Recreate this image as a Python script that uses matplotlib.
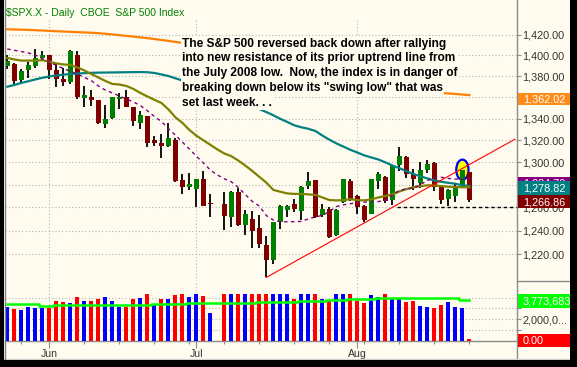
import numpy as np
import matplotlib
matplotlib.use("Agg")
import matplotlib.pyplot as plt
from matplotlib.patches import Rectangle, Ellipse
from matplotlib.lines import Line2D
from matplotlib.ticker import NullLocator

nan = np.nan

# one slot per trading day, May 22 - Aug 25 2008 (slot 30 = Jul 4, empty)
opens = [1390, 1392, 1376, 1386, 1390, 1398, 1400, 1386, 1377, 1374,
         1400, 1359.5, 1360, 1357, 1335, 1341, 1358.5, 1360.7, 1350.5, 1336,
         1342, 1320, 1318, 1314.5, 1320, 1284, 1278, 1276.5, 1285, 1263.5,
         nan, 1263, 1252, 1274, 1245.2, 1250, 1242, 1228, 1215, 1247,
         1257.8, 1263, 1257, 1278.5, 1284, 1253.8, 1259, 1236, 1264.5, 1283,
         1270.4, 1261.5, 1254.7, 1283, 1287.3, 1266.5, 1297.5, 1305, 1289.5, 1281.6,
         1293, 1299.5, 1278, 1267.4, 1270.4, 1278, 1291.7]
highs = [1400, 1393, 1387, 1394, 1406, 1404, 1400, 1393, 1388, 1405,
         1404, 1370.5, 1367, 1357.5, 1353, 1360.5, 1364, 1366.5, 1351, 1347.5,
         1342, 1324, 1326, 1335.5, 1322, 1289.5, 1290.3, 1285.5, 1292, 1271.5,
         nan, 1274, 1274.5, 1277.5, 1257.6, 1257.3, 1253.5, 1235, 1247.5, 1262.3,
         1262.2, 1267.7, 1278.5, 1291, 1284.5, 1263.2, 1260, 1258.5, 1285.3, 1285,
         1271, 1262, 1285.3, 1291.7, 1287.5, 1298, 1313.5, 1305.5, 1294, 1300,
         1302, 1300.2, 1278, 1276, 1281.4, 1293.1, 1291.7]
lows = [1387, 1372.6, 1373, 1378, 1388, 1396, 1377, 1370, 1371, 1373,
        1358.5, 1350.5, 1351.5, 1335, 1331, 1340, 1349, 1350.5, 1333, 1330,
        1313.5, 1315, 1304, 1314, 1282.5, 1272, 1275, 1260.5, 1261.5, 1252,
        nan, 1240.5, 1243, 1244, 1236.5, 1225.3, 1225, 1200.4, 1211.4, 1241.5,
        1251.8, 1255.7, 1248.8, 1276, 1251, 1251.7, 1234, 1235.5, 1264, 1266,
        1254.5, 1247.5, 1254.5, 1276, 1264.3, 1262, 1292, 1285.6, 1275, 1277,
        1290.7, 1274.5, 1263.1, 1261.2, 1264.4, 1277.6, 1264.9]
closes = [1395, 1375, 1385, 1391, 1398, 1400, 1385.5, 1377.5, 1374, 1404,
          1360.5, 1362, 1357.5, 1335.5, 1340, 1360, 1360.3, 1351, 1337.5, 1343,
          1318, 1318, 1315, 1322, 1283.2, 1278.4, 1280.5, 1285, 1261.5, 1262.8,
          nan, 1252.3, 1274, 1244.7, 1254, 1239.5, 1228.3, 1215, 1247, 1261,
          1261.5, 1259, 1278, 1283, 1251.5, 1259, 1234.4, 1258, 1285, 1267.4,
          1260.5, 1249, 1285, 1289.5, 1266, 1297, 1306, 1289.2, 1285.5, 1293,
          1298.8, 1278, 1266.3, 1275, 1278, 1293, 1266.86]

# overlays
ma200 = [1425.6, 1425.4, 1425.2, 1425.0, 1424.7, 1424.4, 1424.0, 1423.7, 1423.4, 1423.1,
         1422.8, 1422.5, 1422.2, 1421.8, 1421.2, 1420.5, 1419.8, 1419.1, 1418.4, 1417.7,
         1416.9, 1416.0, 1415.1, 1414.2, 1413.2, 1412.2, 1410.9, 1409.6, 1408.3, 1407.0,
         1405.7, 1404.4, 1403.1, 1401.8, 1400.5, 1399.2, 1397.9, 1396.6, 1395.3, 1394.0,
         1392.7, 1391.4, 1390.1, 1388.8, 1387.5, 1386.2, 1384.9, 1383.6, 1382.3, 1381.0,
         1379.7, 1378.4, 1377.1, 1375.8, 1374.5, 1373.2, 1371.9, 1370.6, 1369.3, 1368.0,
         1366.7, 1365.4, 1364.1, 1363.6, 1363.1, 1362.6, 1362.02]
ma50 = [1370.0, 1371.6, 1373.6, 1375.2, 1376.9, 1378.5, 1379.7, 1380.7, 1381.5, 1382.1,
        1382.6, 1382.9, 1383.2, 1383.4, 1383.5, 1383.6, 1383.7, 1383.8, 1383.9, 1384.0,
        1383.8, 1383.1, 1381.7, 1380.2, 1378.0, 1375.9, 1373.6, 1371.2, 1368.8, 1366.3,
        1363.8, 1361.2, 1358.7, 1356.3, 1353.8, 1351.3, 1348.9, 1346.1, 1343.1, 1339.8,
        1336.9, 1333.8, 1332.0, 1330.6, 1328.6, 1324.4, 1320.6, 1317.2, 1314.3, 1311.4,
        1308.9, 1306.3, 1304.4, 1302.6, 1300.0, 1297.2, 1294.8, 1292.1, 1289.6, 1287.5,
        1285.6, 1283.8, 1282.6, 1281.7, 1280.9, 1279.5, 1278.82]
ma20 = [1397.6, 1396.1, 1395.0, 1395.0, 1395.0, 1395.4, 1394.0, 1392.3, 1391.3, 1390.8,
        1388.4, 1385.5, 1382.1, 1378.8, 1375.5, 1372.6, 1372.1, 1370.7, 1367.9, 1364.1,
        1360.8, 1357.6, 1354.7, 1348.7, 1341.3, 1336.1, 1329.6, 1324.3, 1320.1, 1315.9,
        1311.7, 1308.0, 1305.6, 1301.6, 1297.1, 1292.2, 1287.0, 1281.9, 1275.4, 1273.8,
        1272.3, 1271.9, 1271.9, 1271.5, 1271.0, 1268.8, 1266.5, 1266.2, 1266.4, 1267.3,
        1266.4, 1266.2, 1267.1, 1268.8, 1270.1, 1271.4, 1274.1, 1276.1, 1277.8, 1278.7,
        1279.5, 1279.4, 1278.8, 1278.2, 1278.0, 1277.8, 1277.8]
purple = [1406.3, 1405.0, 1403.8, 1402.4, 1400.5, 1396.8, 1393.7, 1390.3, 1387.4, 1384.6,
          1382.1, 1378.9, 1375.8, 1370.7, 1366.8, 1364.1, 1361.2, 1358.4, 1355.6, 1352.3,
          1347.4, 1342.1, 1337.4, 1330.9, 1324.8, 1318.4, 1312.1, 1305.6, 1299.5, 1293.1,
          1288.7, 1285.3, 1282.6, 1277.6, 1271.3, 1265.3, 1261.2, 1252.9, 1249.0, 1247.5,
          1247.6, 1247.7, 1247.9, 1250.1, 1251.8, 1253.1, 1256.4, 1260.8, 1262.3, 1263.3,
          1264.3, 1264.7, 1265.1, 1265.2, 1266.1, 1271.0, 1275.0, 1276.3, 1277.0, 1280.1,
          1283.7, 1286.3, 1286.6, 1285.6, 1285.1, 1284.9, 1284.7]

# volume, billions (bars are capped by the panel at ~4.35)
volume = [3.15, 2.96, 2.87, 3.15, 3.06, 3.06, 3.06, 3.72, 3.63, 3.53,
          4.09, 3.72, 3.72, 3.90, 4.09, 3.72, 3.15, 3.15, 3.90, 4.00,
          4.35, 3.44, 3.90, 3.90, 4.28, 4.35, 4.09, 4.35, 4.19, 2.59,
          nan, 4.35, 4.35, 4.35, 4.35, 4.35, 4.35, 4.35, 4.35, 4.35,
          4.35, 3.88, 4.35, 4.35, 4.35, 3.88, 3.69, 4.35, 4.35, 4.35,
          3.69, 3.51, 4.25, 4.07, 4.35, 3.97, 3.88, 3.60, 3.69, 3.23,
          3.13, 3.04, 3.32, 3.60, 3.13, 3.04, 0.15]
vol_ma = [3.44, 3.44, 3.38, 3.38, 3.38, 3.26, 3.26, 3.28, 3.28, 3.28,
          3.28, 3.32, 3.32, 3.32, 3.32, 3.32, 3.36, 3.36, 3.36, 3.36,
          3.36, 3.42, 3.42, 3.42, 3.42, 3.42, 3.48, 3.48, 3.48, 3.48,
          3.48, 3.55, 3.55, 3.55, 3.55, 3.55, 3.63, 3.63, 3.63, 3.63,
          3.63, 3.63, 3.72, 3.72, 3.72, 3.72, 3.82, 3.82, 3.82, 3.90,
          3.90, 3.90, 3.90, 3.98, 3.98, 3.98, 3.98, 3.98, 3.98, 3.98,
          3.98, 3.98, 3.98, 3.98, 3.98, 3.80, 3.80]

trend_x = [37, 72.5]
trend_y = [1200.4, 1321.0]
swing_x = [55.7, 72.8]
swing_low = 1260.0
highlight = (65, 1293.4)   # circled candle

price_ticks = [1220, 1240, 1260, 1280, 1300, 1320, 1340, 1360, 1380, 1400, 1420]
month_slots = [6, 27, 50]
month_labels = ['Jun', 'Jul', 'Aug']
week_slots = [2, 11, 16, 21, 26, 31, 36, 41, 46, 51, 56, 61, 66]

note = ["The S&P 500 reversed back down after rallying",
        "into new resistance of its prior uptrend line from",
        "the July 2008 low.  Now, the index is in danger of",
        'breaking down below its "swing low" that was',
        "set last week. . ."]

# ---------------------------------------------------------------
W, H = 577, 367
BG = '#fffbef'
GRID = '#b4b4b4'
AXC = '#8c8c8c'
TXT = '#333333'
plt.rcParams['font.family'] = ['Liberation Sans', 'DejaVu Sans']


def fx(px):
    return px / W


def fy(py):
    return 1 - py / H


fig = plt.figure(figsize=(W / 100, H / 100), dpi=100, facecolor=BG)
ax = fig.add_axes([fx(4.5), fy(281), fx(517) - fx(4.5), fy(18) - fy(281)])
axv = fig.add_axes([fx(4.5), fy(340.7), fx(517) - fx(4.5), fy(281) - fy(340.7)])
for a in (ax, axv):
    a.set_facecolor(BG)
    for s in a.spines.values():
        s.set_visible(False)
    a.set_xlim(-0.4, 72.8)

x = np.arange(len(closes))
o = np.array(opens)
h = np.array(highs)
l = np.array(lows)
c = np.array(closes)
ok = ~np.isnan(c)

# price panel
ax.set_yscale('log')
ax.set_ylim(1197.4, 1436.8)
ax.vlines(x[ok], l[ok], h[ok], color='black', lw=1.3, zorder=3)
body_col = np.where(c >= o, '#008000', '#800000')[ok]
ax.bar(x[ok], np.abs(c - o)[ok], bottom=np.minimum(o, c)[ok], width=0.72,
       color=body_col, zorder=4, linewidth=0)

ax.plot(x, ma200, color='#ff8000', lw=1.6, zorder=5)
ax.plot(x, ma50, color='#008080', lw=1.6, zorder=5)
ax.plot(x, ma20, color='#808000', lw=1.6, zorder=5)
ax.plot(x, purple, color='#800080', lw=1.0, ls=(0, (2.5, 2.5)), zorder=5)
ax.plot(trend_x, trend_y, color='red', lw=0.8, zorder=6)
ax.plot(swing_x, [swing_low, swing_low], color='black', lw=1.0,
        ls=(0, (2.5, 2)), zorder=2)
ax.add_patch(Ellipse(highlight, 1.75, 18.2, fc='#ffff00', ec='#0000ff',
                     lw=1.6, zorder=3.5))

ax.set_yticks(price_ticks)
ax.set_yticklabels([f'{v:,.2f}' for v in price_ticks])
ax.yaxis.set_minor_locator(NullLocator())
ax.yaxis.tick_right()
ax.tick_params(axis='y', direction='out', length=3, width=0.8, color=AXC,
               labelsize=7.8, labelcolor=TXT, pad=1)
ax.set_xticks(month_slots)
ax.tick_params(axis='x', length=0, labelbottom=False)
ax.grid(True, ls=(0, (1, 2)), color=GRID, lw=0.8, zorder=0)

# volume panel
ok_v = ~np.isnan(np.array(volume))
prev = np.concatenate([[c[0]], c[:-1]])
prev[31] = c[29]
vol_col = np.where(c >= prev, '#0000ff', '#ff0000')
axv.set_ylim(0, 5.55)
axv.bar(x[ok_v], np.array(volume)[ok_v], width=0.57, color=vol_col[ok_v],
        zorder=3, linewidth=0)
axv.plot(x, vol_ma, color='#00ff00', lw=1.8, drawstyle='steps-mid', zorder=4)
axv.set_yticks([1, 2, 3, 4])
axv.set_yticklabels(['', '2,000,0...', '', '4,000,0...'])
axv.yaxis.tick_right()
axv.tick_params(axis='y', direction='out', length=3, width=0.8, color=AXC,
                labelsize=7.8, labelcolor=TXT, pad=1)
axv.set_xticks(month_slots)
axv.set_xticklabels(month_labels)
axv.set_xticks(week_slots, minor=True)
axv.tick_params(axis='x', which='major', direction='out', length=5, width=0.8,
                color=AXC, labelsize=7.6, labelcolor=TXT, pad=1)
axv.tick_params(axis='x', which='minor', direction='out', length=2.2,
                width=0.8, color=AXC)
axv.grid(True, which='major', ls=(0, (1, 2)), color=GRID, lw=0.8, zorder=0)
axv.spines['bottom'].set_visible(True)
axv.spines['bottom'].set_color(AXC)
axv.spines['bottom'].set_linewidth(1)

# title and note
fig.text(fx(6.5), fy(16), '$SPX.X - Daily  CBOE  S&P 500 Index', color='#008000',
         fontsize=7.5, va='baseline', zorder=11)
for i, line in enumerate(note):
    fig.text(fx(182), fy(46.5 + 14.8 * i), line, fontsize=8.6,
             fontweight='bold', color='black', va='baseline',
             bbox=dict(boxstyle='square,pad=0.12', fc=BG, ec='none'))


# right-hand value boxes, later ones drawn on top of earlier ones
def value_box(y0, y1, color, label, z):
    fig.add_artist(Rectangle((fx(518), fy(y1)), fx(570) - fx(518),
                             fy(y0) - fy(y1), transform=fig.transFigure,
                             fc=color, ec='none', zorder=z))
    fig.text(fx(523), fy((y0 + y1) / 2 + 0.5), label, color='white',
             fontsize=7.8, va='center', zorder=z + 0.1)


value_box(92.7, 104.7, '#ff8c1a', '1,362.02', 5)
value_box(176.7, 189.0, '#800080', '1,284.70', 5)
value_box(181.3, 194.5, '#008080', '1,278.82', 6)
value_box(195.0, 208.3, '#800000', '1,266.86', 7)
value_box(294.3, 307.7, '#00ff00', '3,773,683', 5)
value_box(333.7, 347.3, '#ff0000', '0.00', 5)

# frame lines
fig.add_artist(Line2D([fx(517), fx(517)], [fy(0), fy(359)],
                      transform=fig.transFigure, color=AXC, lw=1, zorder=4))
fig.add_artist(Line2D([fx(517), fx(570)], [fy(281), fy(281)],
                      transform=fig.transFigure, color=AXC, lw=1, zorder=4))
fig.add_artist(Line2D([fx(4), fx(570)], [fy(359), fy(359)],
                      transform=fig.transFigure, color='#d0d0d0', lw=1, zorder=4))
fig.add_artist(Line2D([fx(4.5), fx(4.5)], [fy(0), fy(360)],
                      transform=fig.transFigure, color='#808080', lw=1, zorder=4))
for r in [(0, 0, 4, H), (569.5, 0, W - 569.5, H), (0, 360, W, H - 360)]:
    fig.add_artist(Rectangle((fx(r[0]), fy(r[1] + r[3])), r[2] / W, r[3] / H,
                             transform=fig.transFigure, fc='black', ec='none',
                             zorder=10))

fig.savefig('out.png', dpi=100, facecolor=BG)
